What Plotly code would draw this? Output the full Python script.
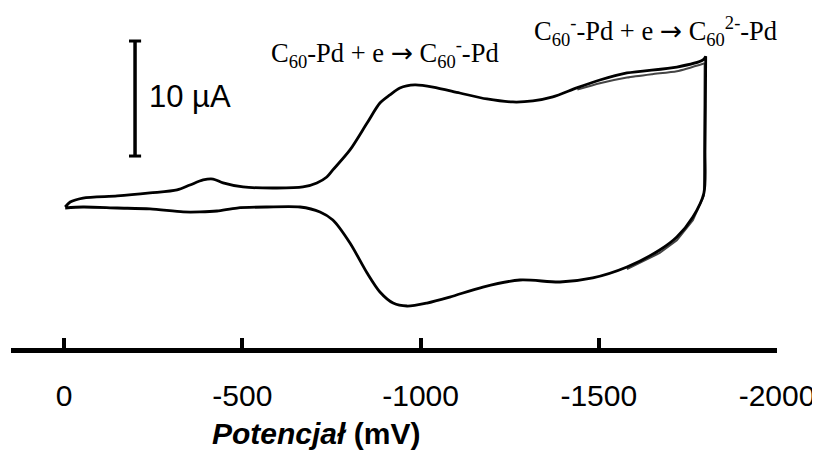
import plotly.graph_objects as go

# ---- data (potential in mV, current in µA, arbitrary zero) ----
E_FWD = [-3, -17, -53, -149, -241, -317, -353, -390, -418, -446, -502, -597, -670, -709,
         -737, -754, -802, -850, -886, -914, -942, -984, -1035, -1110, -1186, -1259, -1315,
         -1371, -1438, -1503, -1579, -1719, -1792, -1800]
I_FWD = [0.0, 0.43, 0.78, 0.96, 1.22, 1.48, 1.91, 2.35, 2.43, 2.09, 1.74, 1.65, 1.74, 2.09,
         2.61, 3.22, 4.96, 7.30, 9.04, 9.74, 10.35, 10.61, 10.43, 9.91, 9.39, 9.13, 9.22,
         9.57, 10.35, 11.04, 11.65, 12.17, 12.78, 13.1]

E_REV = [-1800, -1798, -1795, -1764, -1719, -1671, -1579, -1483, -1391, -1279, -1175, -1082,
         -1018, -962, -923, -886, -850, -802, -754, -718, -662, -569, -485, -429, -381, -334,
         -241, -149, -53, -3]
I_REV = [13.1, 5.0, 1.22, -0.87, -2.61, -3.74, -5.22, -6.17, -6.52, -6.35, -6.96, -7.83,
         -8.35, -8.61, -8.35, -7.39, -5.74, -3.13, -1.13, -0.43, 0.0, 0.0, -0.09, -0.35,
         -0.43, -0.43, -0.17, -0.09, 0.0, -0.09]

# later cycles, visible only near the cathodic vertex
E_CYC2_UP = [-1440, -1503, -1579, -1650, -1719, -1797]
I_CYC2_UP = [10.2, 10.75, 11.25, 11.55, 11.8, 12.5]
E_CYC2_DN = [-1797, -1795, -1764, -1719, -1671, -1579]
I_CYC2_DN = [12.5, 1.0, -1.15, -2.9, -4.0, -5.4]

TICK_VALS = [0, -500, -1000, -1500, -2000]
TICK_TEXT = ["0", "-500", "-1000", "-1500", "-2000"]

SCALE_UA = 10
SCALE_E = -199
SCALE_BASE = 4.43

fig = go.Figure()
fig.add_trace(go.Scatter(x=E_CYC2_UP, y=I_CYC2_UP, mode="lines",
                         line=dict(color="#444", width=2, shape="spline", smoothing=0.6),
                         showlegend=False, hoverinfo="skip"))
fig.add_trace(go.Scatter(x=E_CYC2_DN, y=I_CYC2_DN, mode="lines",
                         line=dict(color="#444", width=2),
                         showlegend=False, hoverinfo="skip"))
fig.add_trace(go.Scatter(x=E_FWD + E_REV, y=I_FWD + I_REV, mode="lines",
                         line=dict(color="black", width=2.8, shape="spline", smoothing=0.8),
                         showlegend=False))

# scale bar (10 µA)
fig.add_shape(type="line", xref="x", yref="y", x0=SCALE_E, x1=SCALE_E,
              y0=SCALE_BASE, y1=SCALE_BASE + SCALE_UA, line=dict(color="black", width=3.5))
for yy in (SCALE_BASE, SCALE_BASE + SCALE_UA):
    fig.add_shape(type="line", xref="x", yref="y", x0=SCALE_E + 17, x1=SCALE_E - 17,
                  y0=yy, y1=yy, line=dict(color="black", width=3))

fig.add_annotation(x=SCALE_E - 34, y=SCALE_BASE + SCALE_UA / 2 + 0.2, xref="x", yref="y",
                   text="10 µA", showarrow=False, xanchor="left", yanchor="middle",
                   font=dict(family="Liberation Sans, Arial", size=31, color="black"))

ARROW = "<span style='font-family:DejaVu Sans'>→</span>"
serif = dict(family="Liberation Serif, Times New Roman", size=26.5, color="black")
fig.add_annotation(x=0.488, y=0.868, xref="paper", yref="paper",
                   text="C<sub>60</sub>-Pd + e " + ARROW + " C<sub>60</sub><sup>-</sup>-Pd",
                   showarrow=False, font=serif, xanchor="center", yanchor="middle")
fig.add_annotation(x=0.841, y=0.931, xref="paper", yref="paper",
                   text="C<sub>60</sub><sup>-</sup>-Pd + e " + ARROW + " C<sub>60</sub><sup>2-</sup>-Pd",
                   showarrow=False, font=serif, xanchor="center", yanchor="middle")

# axis title
fig.add_annotation(x=0.398, y=-0.25, xref="paper", yref="paper",
                   text="<b><i>Potencjał</i></b> <b>(mV)</b>", showarrow=False,
                   xanchor="center", yanchor="middle",
                   font=dict(family="Liberation Sans, Arial", size=30, color="black"))

# the page body has an 8 px margin, so the figure is 8 px smaller than the window
fig.update_layout(
    width=812, height=442,
    margin=dict(l=3, r=43, t=0, b=102, autoexpand=False),
    paper_bgcolor="white", plot_bgcolor="white",
    xaxis=dict(range=[149, -2000], tickvals=TICK_VALS, ticktext=TICK_TEXT,
               ticks="inside", ticklen=10, tickwidth=4, tickcolor="black",
               showline=True, linewidth=5, linecolor="black", automargin=False,
               showgrid=False, zeroline=False, ticklabelstandoff=17,
               tickfont=dict(family="Liberation Sans, Arial", size=30, color="black")),
    yaxis=dict(range=[-12.26, 17.30], visible=False, showgrid=False, zeroline=False,
               automargin=False),
)

fig.write_html("out.html")
